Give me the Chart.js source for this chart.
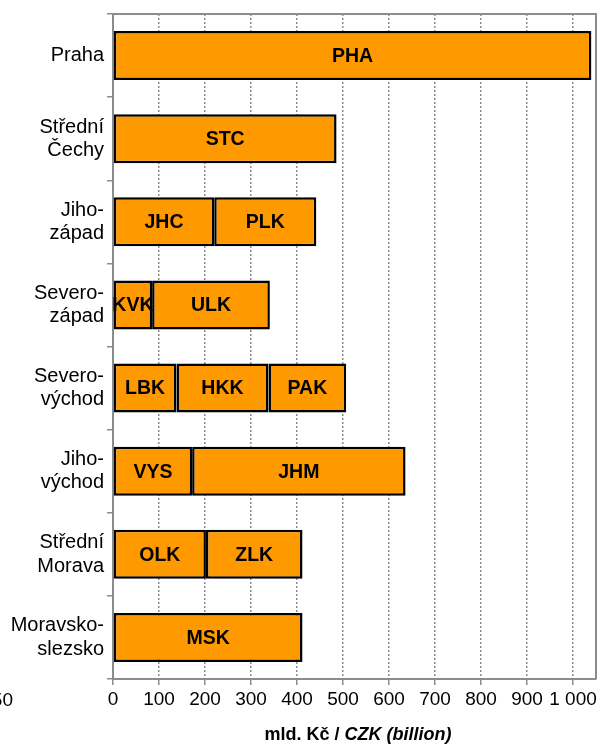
<!DOCTYPE html>
<html>
<head>
<meta charset="utf-8">
<script src="https://cdn.jsdelivr.net/npm/chart.js@4"></script>
<style>
html,body{margin:0;padding:0;background:#fff;}
#wrap{width:610px;height:745px;position:relative;}
</style>
</head>
<body>
<div id="wrap"><canvas id="c" width="610" height="745"></canvas></div>
<script>
const categories = [
  'Praha',
  ['Střední', 'Čechy'],
  ['Jiho-', 'západ'],
  ['Severo-', 'západ'],
  ['Severo-', 'východ'],
  ['Jiho-', 'východ'],
  ['Střední', 'Morava'],
  ['Moravsko-', 'slezsko']
];
const seg1 = [1040, 486, 220, 85, 138, 172, 202, 412];
const seg2 = [null, null, 222, 256, 200, 464, 210, null];
const seg3 = [null, null, null, null, 169, null, null, null];
const lab1 = ['PHA', 'STC', 'JHC', 'KVK', 'LBK', 'VYS', 'OLK', 'MSK'];
const lab2 = [null, null, 'PLK', 'ULK', 'HKK', 'JHM', 'ZLK', null];
const lab3 = [null, null, null, null, 'PAK', null, null, null];
const xTicks = [0, 100, 200, 300, 400, 500, 600, 700, 800, 900, 1000];
const axisTitleA = 'mld. Kč / ';
const axisTitleB = 'CZK (billion)';
const strayLabel = '50';

const FONT = '"Liberation Sans", Arial, sans-serif';
const ORANGE = '#FF9900';
const labelSets = [lab1, lab2, lab3];

const mkDs = (data) => ({
  data: data,
  backgroundColor: ORANGE,
  borderColor: '#000',
  borderWidth: 2.5,
  borderSkipped: false,
  categoryPercentage: 1,
  barPercentage: 0.59
});

const decor = {
  id: 'decor',
  afterDraw(chart) {
    const ctx = chart.ctx, a = chart.chartArea;
    ctx.save();
    ctx.strokeStyle = '#8c8c8c';
    ctx.lineWidth = 2;
    ctx.beginPath();
    ctx.moveTo(a.left, a.top);
    ctx.lineTo(a.right, a.top);
    ctx.lineTo(a.right, a.bottom);
    ctx.stroke();
    ctx.fillStyle = '#000';
    ctx.font = 'bold 19.5px ' + FONT;
    ctx.textAlign = 'center';
    ctx.textBaseline = 'middle';
    chart.data.datasets.forEach((ds, di) => {
      const meta = chart.getDatasetMeta(di);
      meta.data.forEach((el, i) => {
        const t = labelSets[di][i];
        if (!t || ds.data[i] == null) return;
        const p = el.getCenterPoint();
        ctx.fillText(t, p.x, p.y + 1);
      });
    });
    ctx.textAlign = 'left';
    ctx.textBaseline = 'alphabetic';
    ctx.font = 'bold 18px ' + FONT;
    const wA = ctx.measureText(axisTitleA).width;
    ctx.font = 'italic bold 18px ' + FONT;
    const wB = ctx.measureText(axisTitleB).width;
    const x0 = 358 - (wA + wB) / 2;
    ctx.font = 'bold 18px ' + FONT;
    ctx.fillText(axisTitleA, x0, 740);
    ctx.font = 'italic bold 18px ' + FONT;
    ctx.fillText(axisTitleB, x0 + wA, 740);
    ctx.font = '19px ' + FONT;
    ctx.textAlign = 'right';
    ctx.fillText(strayLabel, 13, 706);
    ctx.restore();
  }
};

new Chart(document.getElementById('c'), {
  type: 'bar',
  data: {
    labels: categories,
    datasets: [mkDs(seg1), mkDs(seg2), mkDs(seg3)]
  },
  options: {
    indexAxis: 'y',
    responsive: false,
    animation: false,
    layout: { padding: { top: 14, right: 14, left: 0, bottom: 0 } },
    plugins: { legend: { display: false }, tooltip: { enabled: false } },
    scales: {
      x: {
        type: 'linear',
        stacked: true,
        min: 0,
        max: 1050,
        afterBuildTicks(scale) { scale.ticks = xTicks.map(v => ({ value: v })); },
        afterFit(scale) { scale.height = 66; scale.paddingLeft = 0; scale.paddingRight = 0; },
        ticks: {
          color: '#000',
          font: { family: FONT, size: 19 },
          padding: 3,
          maxRotation: 0,
          autoSkip: false,
          callback: (v) => String(v).replace(/\B(?=(\d{3})+(?!\d))/g, ' ')
        },
        grid: {
          color: '#8c8c8c',
          lineWidth: 1.5,
          tickLength: 6,
          tickColor: '#8c8c8c',
          tickWidth: 1.5,
          tickBorderDash: []
        },
        border: { color: '#8c8c8c', width: 2, dash: [2, 2] }
      },
      y: {
        type: 'category',
        stacked: true,
        afterFit(scale) { scale.width = 113; scale.paddingTop = 0; scale.paddingBottom = 0; },
        ticks: {
          color: '#000',
          font: { family: FONT, size: 20, lineHeight: 1.17 },
          padding: 3
        },
        grid: {
          offset: true,
          drawOnChartArea: false,
          tickLength: 6,
          color: '#8c8c8c',
          lineWidth: 1.5
        },
        border: { color: '#8c8c8c', width: 2 }
      }
    }
  },
  plugins: [decor]
});
</script>
</body>
</html>
